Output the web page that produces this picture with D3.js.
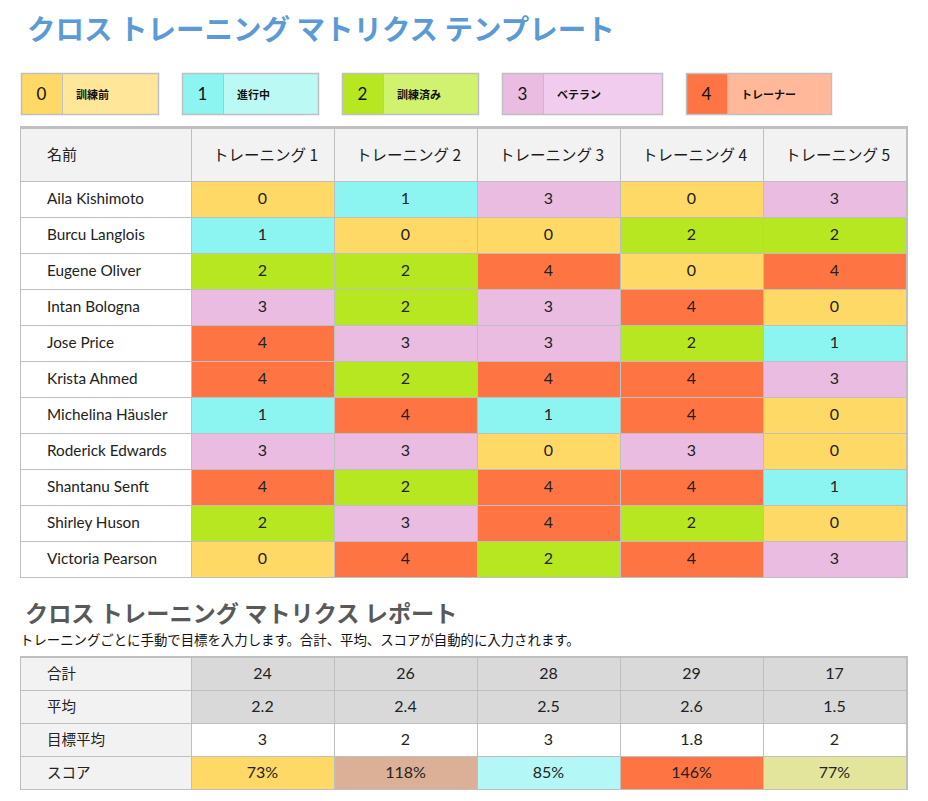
<!DOCTYPE html>
<html>
<head>
<meta charset="utf-8">
<script src="https://cdn.jsdelivr.net/npm/d3@7"></script>
<style>
  body { margin: 0; background: #fff; }
  svg { display: block; }
  .jp { font-family: "Noto Sans CJK JP", "Noto Sans", sans-serif; }
  .lat { font-family: Lato, "Noto Sans", sans-serif; }
</style>
</head>
<body>
<svg id="chart"></svg>
<script>
const levels = [0, 1, 2, 3, 4];
const levelLabels = ["訓練前", "進行中", "訓練済み", "ベテラン", "トレーナー"];
const trainings = ["トレーニング 1", "トレーニング 2", "トレーニング 3", "トレーニング 4", "トレーニング 5"];
const names = ["Aila Kishimoto", "Burcu Langlois", "Eugene Oliver", "Intan Bologna", "Jose Price",
  "Krista Ahmed", "Michelina Häusler", "Roderick Edwards", "Shantanu Senft", "Shirley Huson", "Victoria Pearson"];
const scores = [
  [0, 1, 3, 0, 3],
  [1, 0, 0, 2, 2],
  [2, 2, 4, 0, 4],
  [3, 2, 3, 4, 0],
  [4, 3, 3, 2, 1],
  [4, 2, 4, 4, 3],
  [1, 4, 1, 4, 0],
  [3, 3, 0, 3, 0],
  [4, 2, 4, 4, 1],
  [2, 3, 4, 2, 0],
  [0, 4, 2, 4, 3]
];
const reportLabels = ["合計", "平均", "目標平均", "スコア"];
const totals = [24, 26, 28, 29, 17];
const averages = ["2.2", "2.4", "2.5", "2.6", "1.5"];
const targets = ["3", "2", "3", "1.8", "2"];
const scorePct = ["73%", "118%", "85%", "146%", "77%"];
const scoreColors = ["#ffd966", "#dcb096", "#b3f8f6", "#ff7443", "#e3e59d"];

const darkColor = d3.scaleOrdinal().domain(levels).range(["#ffd966", "#8cf5f2", "#b6e720", "#ebbce1", "#ff7443"]);
const lightColor = d3.scaleOrdinal().domain(levels).range(["#ffe699", "#bbf9f5", "#d0f26e", "#f2ccee", "#ffb89a"]);

const W = 928, H = 801;
const grid = "#bfbfbf";
const svg = d3.select("#chart").attr("width", W).attr("height", H);

// title
svg.append("text").attr("class", "jp")
  .attr("x", 27).attr("y", 40)
  .style("font-size", "28.5px").style("font-weight", "bold").attr("fill", "#5b9bd5")
  .text("クロス トレーニング マトリクス テンプレート");

// legend
const legendWidths = [138, 137, 137, 161, 146];
let lx = 21;
levels.forEach(function(lv, i) {
  const g = svg.append("g").attr("transform", "translate(" + lx + ",73)");
  g.append("rect").attr("width", 41).attr("height", 42).attr("fill", darkColor(lv));
  g.append("rect").attr("x", 41).attr("width", legendWidths[i] - 41).attr("height", 42).attr("fill", lightColor(lv));
  g.append("line").attr("x1", 41.5).attr("x2", 41.5).attr("y1", 0).attr("y2", 42).attr("stroke", grid);
  g.append("rect").attr("x", 0.5).attr("y", 0.5).attr("width", legendWidths[i] - 1).attr("height", 41)
    .attr("fill", "none").attr("stroke", grid).attr("stroke-width", 1.5);
  g.append("text").attr("class", "lat").attr("x", 20.5).attr("y", 27).attr("text-anchor", "middle")
    .style("font-size", "17px").attr("fill", "#111").text(lv);
  g.append("text").attr("class", "jp").attr("x", 55).attr("y", 26)
    .style("font-size", "11px").style("font-weight", "bold").attr("fill", "#111").text(levelLabels[i]);
  lx += legendWidths[i] + 23;
});

// main table
const left = 20, nameW = 171, right = 906;
const x = d3.scaleBand().domain(d3.range(trainings.length)).range([left + nameW, right]);
const headTop = 128, headBottom = 181;
const y = d3.scaleBand().domain(d3.range(names.length)).range([headBottom, headBottom + 36 * names.length]);

const table = svg.append("g");
table.append("rect").attr("x", left).attr("y", headTop).attr("width", right - left).attr("height", headBottom - headTop).attr("fill", "#f2f2f2");
table.append("text").attr("class", "jp").attr("x", 47).attr("y", 160)
  .style("font-size", "15px").attr("fill", "#222").text("名前");
table.selectAll(".th").data(trainings).enter().append("text")
  .attr("class", "jp th").attr("x", function(d, i) { return x(i) + x.bandwidth() / 2 + 3; }).attr("y", 161)
  .attr("text-anchor", "middle").style("font-size", "15.5px").attr("fill", "#1a1a1a")
  .text(function(d) { return d; });

const rows = table.selectAll(".row").data(scores).enter().append("g").attr("class", "row");
rows.append("rect").attr("x", left).attr("y", function(d, i) { return y(i); })
  .attr("width", nameW).attr("height", y.bandwidth()).attr("fill", "#fff");
rows.append("text").attr("class", "lat").attr("x", 47).attr("y", function(d, i) { return y(i) + 23; })
  .style("font-size", "15.3px").attr("fill", "#222").text(function(d, i) { return names[i]; });
rows.each(function(r, ri) {
  const g = d3.select(this);
  g.selectAll("rect.cell").data(r).enter().append("rect").attr("class", "cell")
    .attr("x", function(d, ci) { return x(ci); }).attr("y", y(ri))
    .attr("width", x.bandwidth()).attr("height", y.bandwidth()).attr("fill", function(d) { return darkColor(d); });
  g.selectAll("text.val").data(r).enter().append("text").attr("class", "lat val")
    .attr("x", function(d, ci) { return x(ci) + x.bandwidth() / 2; }).attr("y", y(ri) + 23)
    .attr("text-anchor", "middle").style("font-size", "16px").attr("fill", "#222").text(function(d) { return d; });
});

// grid lines
const tableBottom = y.range()[1];
const hLines = [headBottom].concat(d3.range(names.length).map(function(i) { return y(i) + y.bandwidth(); }));
table.selectAll(".hl").data(hLines).enter().append("line")
  .attr("x1", left).attr("x2", right).attr("y1", function(d) { return d + 0.5; }).attr("y2", function(d) { return d + 0.5; })
  .attr("stroke", grid);
const vLines = [left, left + nameW].concat(d3.range(1, trainings.length).map(function(i) { return x(i); }));
table.selectAll(".vl").data(vLines).enter().append("line")
  .attr("x1", function(d) { return d + 0.5; }).attr("x2", function(d) { return d + 0.5; })
  .attr("y1", headTop).attr("y2", tableBottom).attr("stroke", grid);
table.append("line").attr("x1", left).attr("x2", right + 2).attr("y1", headTop - 0.5).attr("y2", headTop - 0.5).attr("stroke", grid).attr("stroke-width", 3);
table.append("line").attr("x1", right + 1).attr("x2", right + 1).attr("y1", headTop).attr("y2", tableBottom + 1).attr("stroke", grid).attr("stroke-width", 2);

// report section
svg.append("text").attr("class", "jp").attr("x", 25).attr("y", 622)
  .style("font-size", "23.2px").style("font-weight", "bold").attr("fill", "#595959")
  .text("クロス トレーニング マトリクス レポート");
svg.append("text").attr("class", "jp").attr("x", 20).attr("y", 645)
  .style("font-size", "13.4px").attr("fill", "#111")
  .text("トレーニングごとに手動で目標を入力します。合計、平均、スコアが自動的に入力されます。");

const repTop = 657;
const ry = d3.scaleBand().domain(d3.range(reportLabels.length)).range([repTop, repTop + 33 * reportLabels.length]);
const repValues = [totals, averages, targets, scorePct];
const repFill = [
  function() { return "#d9d9d9"; },
  function() { return "#d9d9d9"; },
  function() { return "#fff"; },
  function(d, i) { return scoreColors[i]; }
];
const rep = svg.append("g");
reportLabels.forEach(function(lab, ri) {
  rep.append("rect").attr("x", left).attr("y", ry(ri)).attr("width", nameW).attr("height", ry.bandwidth()).attr("fill", "#f2f2f2");
  rep.append("text").attr("class", "jp").attr("x", 47).attr("y", ry(ri) + 22)
    .style("font-size", "14.5px").attr("fill", "#222").text(lab);
  rep.selectAll(".r" + ri).data(repValues[ri]).enter().append("rect")
    .attr("x", function(d, ci) { return x(ci); }).attr("y", ry(ri))
    .attr("width", x.bandwidth()).attr("height", ry.bandwidth()).attr("fill", repFill[ri]);
  rep.selectAll(".t" + ri).data(repValues[ri]).enter().append("text").attr("class", "lat")
    .attr("x", function(d, ci) { return x(ci) + x.bandwidth() / 2; }).attr("y", ry(ri) + 22)
    .attr("text-anchor", "middle").style("font-size", "16px").attr("fill", "#222").text(function(d) { return d; });
});
const repBottom = ry.range()[1];
const rhLines = d3.range(1, reportLabels.length + 1).map(function(i) { return repTop + 33 * i; });
rep.selectAll(".hl").data(rhLines).enter().append("line")
  .attr("x1", left).attr("x2", right).attr("y1", function(d) { return d + 0.5; }).attr("y2", function(d) { return d + 0.5; })
  .attr("stroke", grid);
rep.selectAll(".vl").data(vLines).enter().append("line")
  .attr("x1", function(d) { return d + 0.5; }).attr("x2", function(d) { return d + 0.5; })
  .attr("y1", repTop).attr("y2", repBottom).attr("stroke", grid);
rep.append("line").attr("x1", left).attr("x2", right + 2).attr("y1", repTop).attr("y2", repTop).attr("stroke", grid).attr("stroke-width", 2);
rep.append("line").attr("x1", right + 1).attr("x2", right + 1).attr("y1", repTop).attr("y2", repBottom + 1).attr("stroke", grid).attr("stroke-width", 2);
</script>
</body>
</html>
